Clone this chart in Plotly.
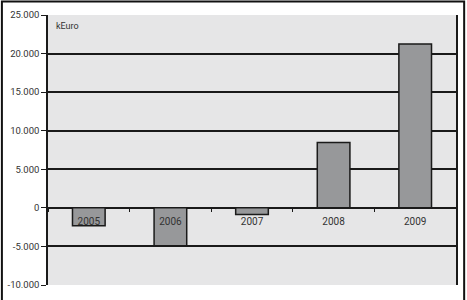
import plotly.graph_objects as go

years = ["2005", "2006", "2007", "2008", "2009"]
values = [-2330, -4920, -870, 8460, 21240]
y_ticks = [-10000, -5000, 0, 5000, 10000, 15000, 20000, 25000]
y_tick_labels = ["-10.000", "-5.000", "0", "5.000", "10.000", "15.000", "20.000", "25.000"]
unit_label = "kEuro"

y_min, y_max = -10000, 25000
fam = "Roboto, Open Sans, sans-serif"
font = dict(family=fam, size=10, color="#333333")

fig = go.Figure()
fig.add_trace(go.Bar(
    x=years, y=values, width=0.4,
    marker=dict(color="#97989a", line=dict(color="#1a1a1a", width=1.5)),
    showlegend=False,
))

fig.update_layout(
    width=467, height=300,
    margin=dict(l=48, r=11, t=15, b=15),
    paper_bgcolor="white",
    plot_bgcolor="#e6e6e7",
    font=font,
    xaxis=dict(
        anchor="free",
        position=(0 - y_min) / (y_max - y_min),
        showgrid=False, zeroline=False, showline=False,
        ticks="outside", ticklen=3, tickwidth=1, tickcolor="#1a1a1a",
        tickson="boundaries",
        ticklabelstandoff=6,
        tickfont=dict(family=fam, size=10, color="#333333"),
        range=[-0.5, 4.5],
        automargin=False,
    ),
    yaxis=dict(
        range=[y_min, y_max],
        tickvals=y_ticks, ticktext=y_tick_labels,
        showgrid=True, gridcolor="#1a1a1a", gridwidth=1.5,
        zeroline=False,
        showline=True, linecolor="#1a1a1a", linewidth=1.5, mirror=True,
        ticks="outside", ticklen=5, tickwidth=1, tickcolor="#1a1a1a",
        tickfont=dict(family=fam, size=9.5, color="#333333"),
        automargin=False,
    ),
    annotations=[dict(
        text=unit_label, xref="paper", yref="paper", x=0.015, y=0.985,
        xanchor="left", yanchor="top", showarrow=False,
        font=dict(family=fam, size=9, color="#333333"),
    )],
    shapes=[dict(
        type="rect", xref="paper", yref="paper",
        x0=-0.113, x1=1.02, y0=-0.07, y1=1.05,
        line=dict(color="#111111", width=2), layer="above",
    )],
)

fig.write_html("out.html")
